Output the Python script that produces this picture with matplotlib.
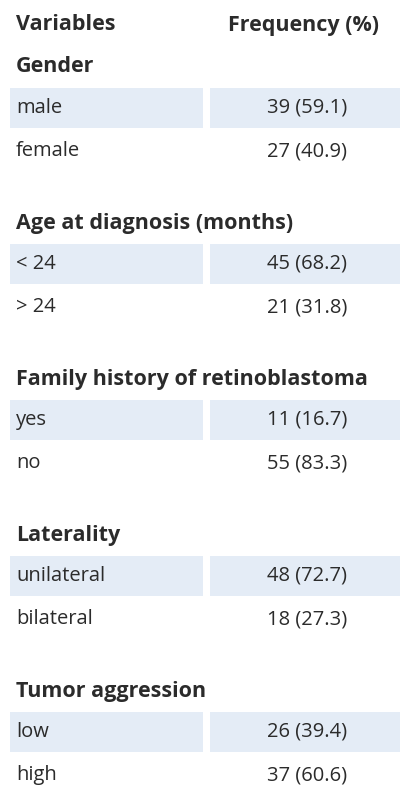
import matplotlib
matplotlib.use("Agg")
import matplotlib.pyplot as plt
from matplotlib.patches import Rectangle

headers = ["Variables", "Frequency (%)"]
sections = ["Gender", "Age at diagnosis (months)", "Family history of retinoblastoma", "Laterality", "Tumor aggression"]
categories = [["male", "female"], ["< 24", "> 24"], ["yes", "no"], ["unilateral", "bilateral"], ["low", "high"]]
counts = [[39, 27], [45, 21], [11, 55], [48, 18], [26, 37]]
percents = [[59.1, 40.9], [68.2, 31.8], [16.7, 83.3], [72.7, 27.3], [39.4, 60.6]]

fig = plt.figure(figsize=(4.09, 8.0), dpi=100)
ax = fig.add_axes([0, 0, 1, 1])
ax.set_xlim(0, 409); ax.set_ylim(800, 0); ax.axis("off")
tc = "#2b2b2b"; band = "#e4ecf6"; fam = "Open Sans"; fsb = 15.5; fsr = 14.5

ax.text(16, 25, headers[0], fontsize=fsb, fontweight="bold", color=tc, va="center", family=fam)
ax.text(304, 25, headers[1], fontsize=fsb, fontweight="bold", color=tc, va="center", ha="center", family=fam)

y0 = 67; step = 156
for i, sec in enumerate(sections):
    ys = y0 + i * step
    ax.text(16, ys, sec, fontsize=fsb, fontweight="bold", color=tc, va="center", family=fam)
    for j, cat in enumerate(categories[i]):
        yr = ys + 41 + j * 43
        if j == 0:
            ax.add_patch(Rectangle((10, yr - 20), 193, 40, color=band, lw=0))
            ax.add_patch(Rectangle((210, yr - 20), 190, 40, color=band, lw=0))
        ax.text(16, yr, cat, fontsize=fsr, color=tc, va="center", family=fam)
        ax.text(307, yr, f"{counts[i][j]} ({percents[i][j]})", fontsize=fsr, color=tc, va="center", ha="center", family=fam)

fig.savefig("out.png", dpi=100, facecolor="white")
